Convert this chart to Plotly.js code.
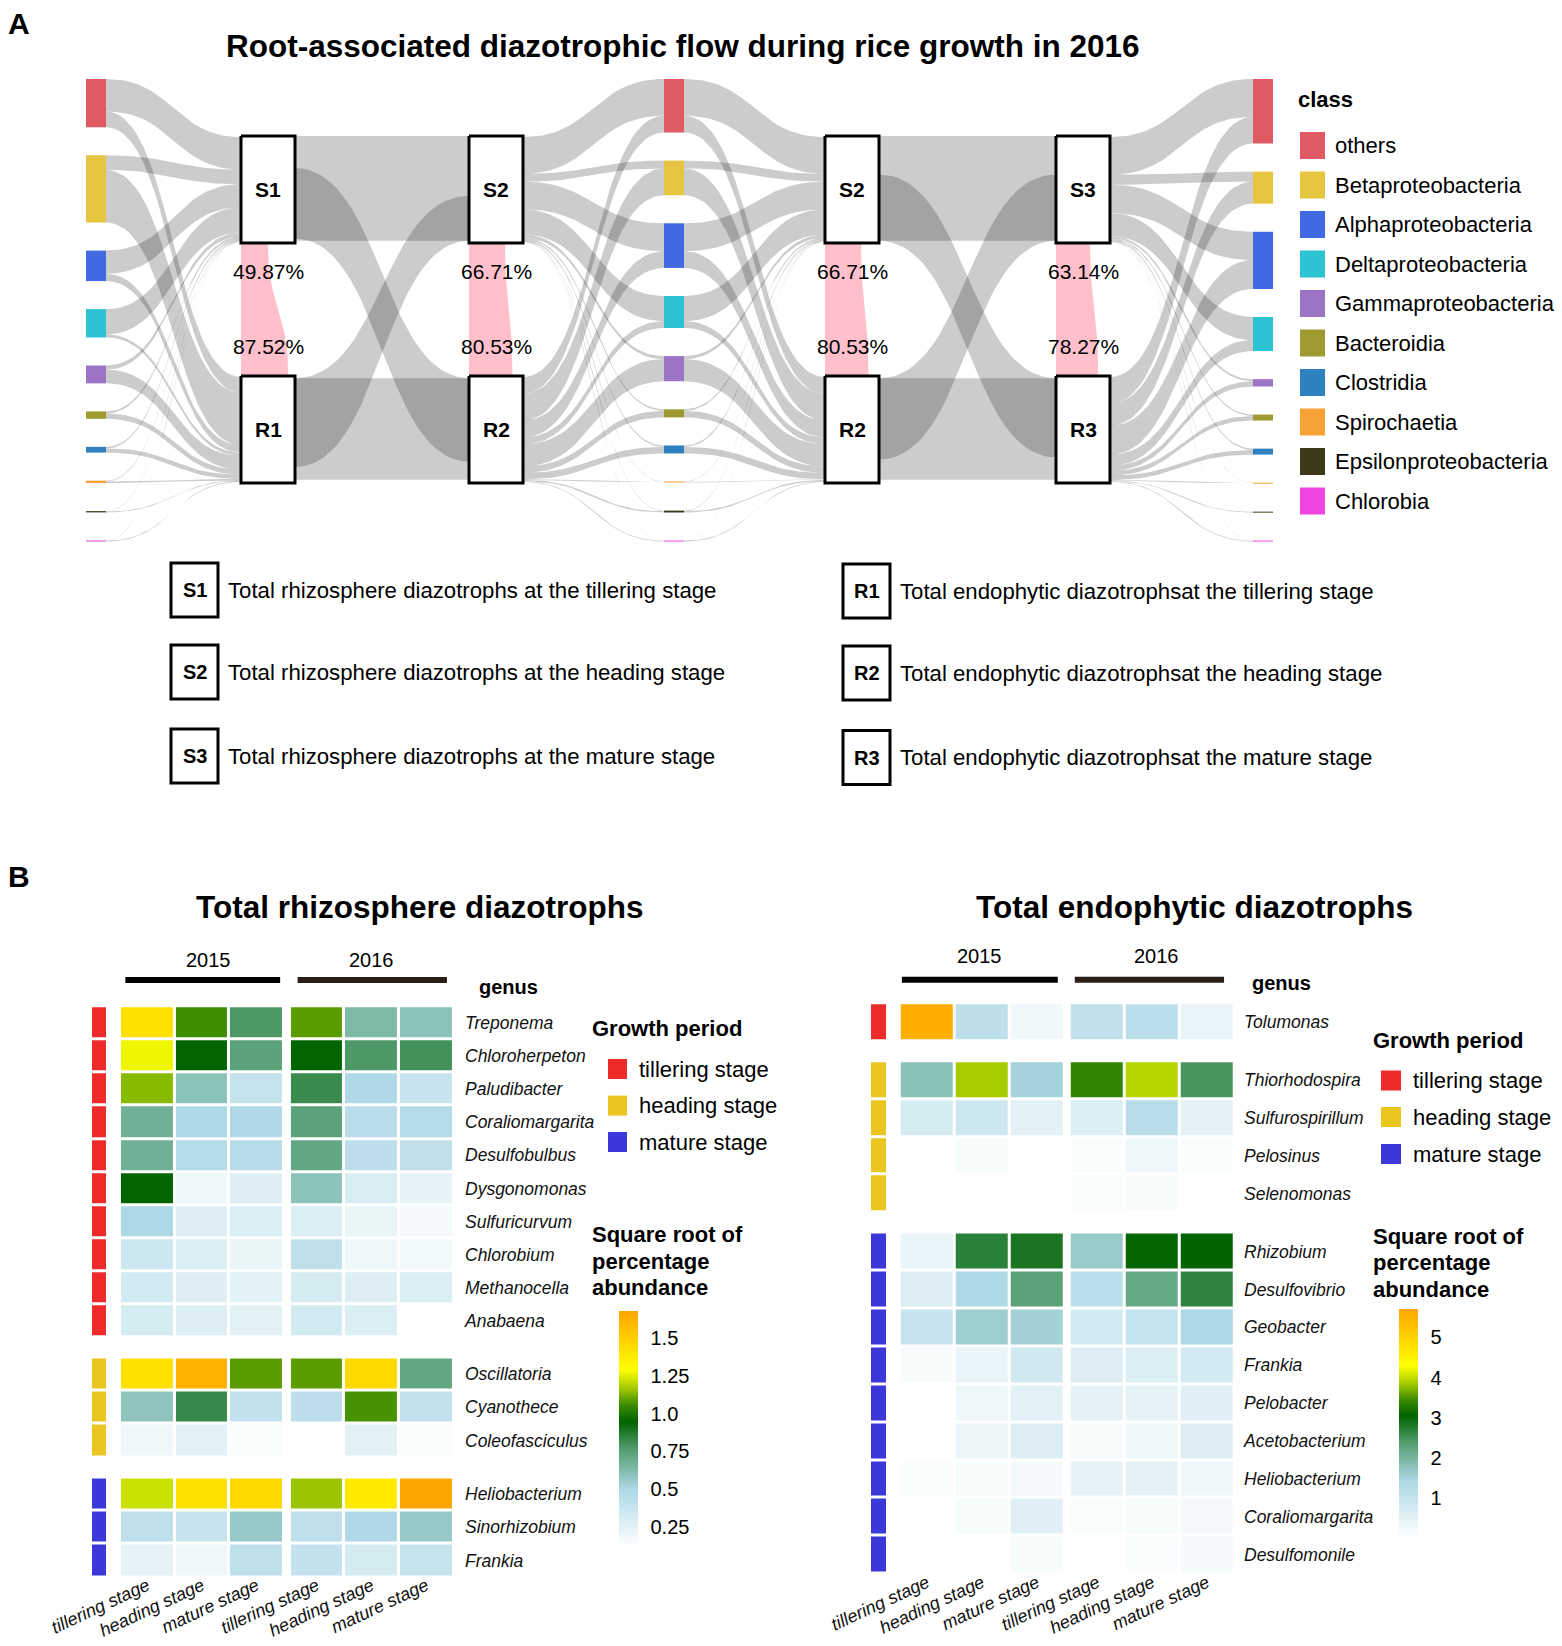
<!DOCTYPE html>
<html>
<head>
<meta charset="utf-8">
<script src="https://cdn.plot.ly/plotly-3.0.1.min.js"></script>
<style>html,body{margin:0;padding:0;background:#fff;}</style>
</head>
<body>
<div id="chart" style="width:1562px;height:1646px;"></div>
<script>
// ======================= DATA =======================
// Panel A – class composition (% of each total community, 2016)
const classNames = ['others','Betaproteobacteria','Alphaproteobacteria','Deltaproteobacteria','Gammaproteobacteria','Bacteroidia','Clostridia','Spirochaetia','Epsilonproteobacteria','Chlorobia'];
const classColors = ['#E05A63','#E6C540','#4169E1','#2CC3D3','#9C74C5','#9E9A2F','#2F80BE','#F7A136','#3C3A1B','#EF45E1'];
const S1comp = [31, 14, 22, 24, 4, 2, 1.5, 0.8, 0.4, 0.3];
const R1comp = [15, 50, 7, 3, 13, 5, 4, 1.5, 0.8, 0.7];
const S2comp = [35, 7.5, 26.5, 24, 3, 1.5, 1.4, 0.4, 0.5, 0.2];
const R2comp = [16, 25.5, 16, 6.5, 21, 6.2, 6.2, 0.6, 1.3, 0.7];
const S3comp = [36, 9.5, 27, 22, 2, 1.4, 1.4, 0.3, 0.2, 0.2];
const R3comp = [25.5, 21, 27.5, 10.5, 5, 4.3, 4.3, 0.6, 0.6, 0.7];

// total-community boxes and flows between them (% of box height)
const boxLabels = ['S1','R1','S2','R2','S2','R2','S3','R3'];
const flowSource   = [0, 1, 0, 1, 4, 5, 4, 5];
const flowTarget   = [2, 3, 3, 2, 6, 7, 7, 6];
const flowSrcStart = [0, 2, 30, 2, 0, 2, 36, 2];
const flowSrcEnd   = [98, 97, 96, 85, 98, 97, 98, 78];
const flowTgtStart = [0, 2, 2, 56, 0, 2, 2, 36];
const flowTgtEnd   = [98, 97, 80, 98, 98, 97, 76, 98];
const sharedTop    = [49.87, 66.71, 66.71, 63.14];
const sharedBottom = [87.52, 80.53, 80.53, 78.27];

const legendCodes = ['S1','S2','S3','R1','R2','R3'];
const legendTexts = ['Total rhizosphere diazotrophs at the tillering stage','Total rhizosphere diazotrophs at the heading stage','Total rhizosphere diazotrophs at the mature stage','Total endophytic diazotrophsat the tillering stage','Total endophytic diazotrophsat the heading stage','Total endophytic diazotrophsat the mature stage'];

// Panel B – square root of percentage abundance
const stageTicks = ['tillering stage','heading stage','mature stage','tillering stage','heading stage','mature stage'];
const years = ['2015','2016'];
const growthStages = ['tillering stage','heading stage','mature stage'];
const stageColors = ['#EE2B2B','#EBC520','#3B37D9'];

const rhizoTillGenus = ['Treponema','Chloroherpeton','Paludibacter','Coraliomargarita','Desulfobulbus','Dysgonomonas','Sulfuricurvum','Chlorobium','Methanocella','Anabaena'];
const rhizoTillValues = [
  [1.42,1.06,0.78,1.09,0.64,0.60],
  [1.27,0.95,0.74,0.95,0.78,0.80],
  [1.14,0.60,0.39,0.82,0.49,0.38],
  [0.68,0.50,0.49,0.74,0.45,0.47],
  [0.68,0.47,0.46,0.72,0.43,0.42],
  [0.95,0.20,0.28,0.60,0.30,0.24],
  [0.50,0.28,0.29,0.29,0.22,0.17],
  [0.36,0.29,0.22,0.42,0.20,0.18],
  [0.33,0.28,0.25,0.31,0.28,0.29],
  [0.31,0.28,0.26,0.33,0.29,0]];
const rhizoHeadGenus = ['Oscillatoria','Cyanothece','Coleofasciculus'];
const rhizoHeadValues = [
  [1.42,1.62,1.09,1.09,1.46,0.72],
  [0.59,0.83,0.40,0.43,1.07,0.41],
  [0.20,0.26,0.15,0,0.26,0.15]];
const rhizoMatGenus = ['Heliobacterium','Sinorhizobium','Frankia'];
const rhizoMatValues = [
  [1.22,1.42,1.46,1.16,1.38,1.68],
  [0.42,0.38,0.57,0.42,0.49,0.57],
  [0.24,0.20,0.42,0.40,0.32,0.39]];
const rhizoRange = [0.12, 1.68];
const rhizoTicks = [0.25,0.5,0.75,1.0,1.25,1.5];
const rhizoTickText = ['0.25','0.5','0.75','1.0','1.25','1.5'];

const endoTillGenus = ['Tolumonas'];
const endoTillValues = [[5.6,1.19,0.30,1.12,1.22,0.44]];
const endoHeadGenus = ['Thiorhodospira','Sulfurospirillum','Pelosinus','Selenomonas'];
const endoHeadValues = [
  [1.81,3.88,1.52,3.40,3.96,2.49],
  [0.74,0.91,0.54,0.67,1.25,0.50],
  [0,0.20,0,0.135,0.34,0.17],
  [0,0,0,0.135,0.20,0]];
const endoMatGenus = ['Rhizobium','Desulfovibrio','Geobacter','Frankia','Pelobacter','Acetobacterium','Heliobacterium','Coraliomargarita','Desulfomonile'];
const endoMatValues = [
  [0.40,2.72,2.85,1.67,3.08,3.05],
  [0.64,1.42,2.32,1.22,2.21,2.69],
  [1.00,1.62,1.55,0.80,1.03,1.44],
  [0.20,0.44,0.85,0.64,0.67,0.80],
  [0,0.34,0.54,0.50,0.47,0.57],
  [0,0.37,0.64,0.20,0.34,0.64],
  [0.135,0.20,0.24,0.47,0.50,0.34],
  [0,0.20,0.57,0.17,0.20,0.24],
  [0,0,0.20,0,0.17,0.24]];
const endoRange = [0.05, 5.72];
const endoTicks = [1,2,3,4,5];

// ======================= LAYOUT / STYLE =======================
const W = 1562, H = 1646;
const FONT = 'Liberation Sans, Arial, Helvetica, sans-serif';
const fx = p => p / W, fy = p => 1 - p / H;
const G = {
  colX: [86, 664, 1253], nodeW: 20, colTop: 79, colBottom: 541.5, k: 1.05,
  boxX: [241, 469, 825, 1056], boxW: 54, sTop: 136, rTop: 376, boxH: 107, inset: 1,
  link: 'rgba(0,0,0,0.2)', pink: '#FFC0CB'
};
const CS = [[0,'#FFFFFF'],[0.245,'#ADD8E6'],[0.42,'#4F9A6A'],[0.53,'#006400'],[0.60,'#3A8A00'],[0.67,'#A0C800'],[0.75,'#FFFF00'],[0.88,'#FFD000'],[1,'#FFA500']];
const X_EDGES = [0,1,2,3,3.1,4.1,5.1,6.1];
const X_CENTERS = [0.5,1.5,2.5,3.6,4.6,5.6];

const traces = [];
const shapes = [];
const annotations = [];
const OV = {xaxis:'x5', yaxis:'y7', hoverinfo:'skip', showlegend:false};

function poly(xs, ys, fillcolor, line) {
  return Object.assign({type:'scatter', mode:'lines', x:xs, y:ys, fill:'toself', fillcolor:fillcolor,
    line: line || {width:0, color:'rgba(0,0,0,0)'}}, OV);
}
function bez(p0,p1,p2,p3,t){const u=1-t;return u*u*u*p0+3*u*u*t*p1+3*u*t*t*p2+t*t*t*p3;}
function ribbon(x0, x1, a0, a1, b0, b1, color) {
  const xs=[], ys=[], N=40, xm=(x0+x1)/2;
  for (let i=0;i<=N;i++){const t=i/N; xs.push(bez(x0,xm,xm,x1,t)); ys.push(bez(a0,a0,b0,b0,t));}
  for (let i=N;i>=0;i--){const t=i/N; xs.push(bez(x0,xm,xm,x1,t)); ys.push(bez(a1,a1,b1,b1,t));}
  return poly(xs, ys, color);
}
function vribbon(y0, y1, xa0, xa1, xb0, xb1, color) {
  const xs=[], ys=[], N=40, ym=(y0+y1)/2;
  for (let i=0;i<=N;i++){const t=i/N; ys.push(bez(y0,ym,ym,y1,t)); xs.push(bez(xa0,xa0,xb0,xb0,t));}
  for (let i=N;i>=0;i--){const t=i/N; ys.push(bez(y0,ym,ym,y1,t)); xs.push(bez(xa1,xa1,xb1,xb1,t));}
  return poly(xs, ys, color);
}
function txt(x, y, text, size, opts) {
  return Object.assign({xref:'x5', yref:'y7', x:x, y:y, text:text, showarrow:false,
    font:{family:FONT, size:size, color:'#000'}, xanchor:'left', yanchor:'middle'}, opts || {});
}
const boxLeft = i => G.boxX[Math.floor(i/2)];
const boxRight = i => G.boxX[Math.floor(i/2)] + G.boxW;
const boxTop = i => (i % 2 === 0 ? G.sTop : G.rTop);

// ---- class columns ----
const colComps = [[S1comp,R1comp],[S2comp,R2comp],[S3comp,R3comp]];
const nodeTops = colComps.map(([s,r]) => {
  const h = s.map((v,i) => (v + r[i]) * G.k);
  const total = h.reduce((a,b)=>a+b,0);
  const pad = (G.colBottom - G.colTop - total) / (h.length - 1);
  let y = G.colTop;
  return h.map(v => {const t = y; y += v + pad; return t;});
});

function classLinks(col, sBox, rBox, classOnLeft) {
  const [sC, rC] = colComps[col];
  const cx = G.colX[col];
  let cumS = 0, cumR = 0;
  classNames.forEach((_, i) => {
    const ny = nodeTops[col][i];
    const sH = sC[i]*G.k, rH = rC[i]*G.k;
    const bS = boxTop(sBox) + G.inset + cumS*G.k; cumS += sC[i];
    const bR = boxTop(rBox) + G.inset + cumR*G.k; cumR += rC[i];
    if (classOnLeft) {
      traces.push(ribbon(cx+G.nodeW, boxLeft(sBox), ny, ny+sH, bS, bS+sH, G.link));
      traces.push(ribbon(cx+G.nodeW, boxLeft(rBox), ny+sH, ny+sH+rH, bR, bR+rH, G.link));
    } else {
      traces.push(ribbon(boxRight(sBox), cx, bS, bS+sH, ny, ny+sH, G.link));
      traces.push(ribbon(boxRight(rBox), cx, bR, bR+rH, ny+sH, ny+sH+rH, G.link));
    }
  });
}
classLinks(0, 0, 1, true);
classLinks(1, 2, 3, false);
classLinks(1, 4, 5, true);
classLinks(2, 6, 7, false);

// ---- box-to-box flows ----
flowSource.forEach((s, j) => {
  const t = flowTarget[j];
  traces.push(ribbon(boxRight(s), boxLeft(t),
    boxTop(s) + G.boxH*flowSrcStart[j]/100, boxTop(s) + G.boxH*flowSrcEnd[j]/100,
    boxTop(t) + G.boxH*flowTgtStart[j]/100, boxTop(t) + G.boxH*flowTgtEnd[j]/100, G.link));
});

// ---- shared (pink) bands + labels ----
sharedTop.forEach((pt, c) => {
  const x0 = G.boxX[c];
  const y0 = G.sTop + G.boxH, y1 = G.rTop;
  traces.push(vribbon(y0, y1, x0, x0 + G.boxW*pt/100, x0, x0 + G.boxW*sharedBottom[c]/100, G.pink));
  annotations.push(txt(x0 + G.boxW/2, y0 + 28, pt.toFixed(2) + '%', 21, {xanchor:'center'}));
  annotations.push(txt(x0 + G.boxW/2, y1 - 30, sharedBottom[c].toFixed(2) + '%', 21, {xanchor:'center'}));
});

// ---- class nodes ----
colComps.forEach(([s, r], col) => {
  classNames.forEach((_, i) => {
    const x0 = G.colX[col], x1 = x0 + G.nodeW;
    const y0 = nodeTops[col][i], y1 = y0 + Math.max((s[i]+r[i])*G.k, 1);
    traces.push(poly([x0,x1,x1,x0,x0],[y0,y0,y1,y1,y0], classColors[i]));
  });
});

// ---- boxes ----
boxLabels.forEach((lab, i) => {
  const x0 = boxLeft(i), x1 = boxRight(i), y0 = boxTop(i), y1 = y0 + G.boxH;
  traces.push(poly([x0,x1,x1,x0,x0],[y0,y0,y1,y1,y0], '#FFFFFF', {color:'#000', width:3}));
  annotations.push(txt((x0+x1)/2, (y0+y1)/2, '<b>' + lab + '</b>', 21, {xanchor:'center'}));
});

// ---- panel A texts & class legend ----
annotations.push(txt(6, 23, '<b>A</b>', 30));
annotations.push(txt(683, 46, '<b>Root-associated diazotrophic flow during rice growth in 2016</b>', 31.5, {xanchor:'center'}));
annotations.push(txt(1296, 99, '<b>class</b>', 22));
classNames.forEach((n, i) => {
  const yc = 145.5 + i*39.5;
  shapes.push({type:'rect', xref:'x5', yref:'y7', x0:1300, x1:1325, y0:yc-13.5, y1:yc+13.5, fillcolor:classColors[i], line:{width:0}});
  annotations.push(txt(1333, yc, n, 22));
});

// ---- S/R description legend ----
const legBoxX = [[171,218],[171,218],[171,218],[843,890],[843,890],[843,890]];
const legY = [590, 672, 756, 591, 673, 757.5];
legendCodes.forEach((c, i) => {
  const [x0, x1] = legBoxX[i], yc = legY[i];
  shapes.push({type:'rect', xref:'x5', yref:'y7', x0:x0, x1:x1, y0:yc-27, y1:yc+27, fillcolor:'#FFFFFF', line:{color:'#000', width:3}});
  annotations.push(txt((x0+x1)/2, yc, '<b>' + c + '</b>', 20, {xanchor:'center'}));
  annotations.push(txt(x1 + 8, yc, legendTexts[i], 22.2));
});

// ======================= PANEL B =======================
function heat(genus, vals, xa, ya, range, show, cb) {
  return {type:'heatmap', x:X_EDGES, y:genus, z:vals.map(r => [r[0],r[1],r[2],null,r[3],r[4],r[5]]),
    xaxis:xa, yaxis:ya, colorscale:CS, zmin:range[0], zmax:range[1], xgap:3, ygap:3,
    showscale:show, colorbar:cb, hoverinfo:'skip'};
}
function strip(genus, xa, ya, color) {
  return {type:'heatmap', x:[0], y:genus, z:genus.map(() => [1]), xaxis:xa, yaxis:ya,
    colorscale:[[0,color],[1,color]], zmin:0, zmax:1, showscale:false, ygap:3, hoverinfo:'skip'};
}
function cbar(x, yTop, yBot, vals, text) {
  return {x:fx(x), xanchor:'left', xpad:0, y:fy((yTop+yBot)/2), yanchor:'middle', ypad:0,
    len:yBot-yTop, lenmode:'pixels', thickness:19, outlinewidth:0,
    tickvals:vals, ticktext:text, ticks:'outside', ticklen:9, tickcolor:'rgba(0,0,0,0)',
    tickfont:{family:FONT, size:20, color:'#000'}};
}

traces.push(heat(rhizoTillGenus, rhizoTillValues, 'x', 'y', rhizoRange, true, cbar(618.6, 1310.7, 1546.7, rhizoTicks, rhizoTickText)));
traces.push(heat(rhizoHeadGenus, rhizoHeadValues, 'x', 'y2', rhizoRange, false));
traces.push(heat(rhizoMatGenus, rhizoMatValues, 'x', 'y3', rhizoRange, false));
traces.push(strip(rhizoTillGenus, 'x2', 'y', stageColors[0]));
traces.push(strip(rhizoHeadGenus, 'x2', 'y2', stageColors[1]));
traces.push(strip(rhizoMatGenus, 'x2', 'y3', stageColors[2]));

traces.push(heat(endoTillGenus, endoTillValues, 'x3', 'y4', endoRange, true, cbar(1399.4, 1308.3, 1536.7, endoTicks, endoTicks.map(String))));
traces.push(heat(endoHeadGenus, endoHeadValues, 'x3', 'y5', endoRange, false));
traces.push(heat(endoMatGenus, endoMatValues, 'x3', 'y6', endoRange, false));
traces.push(strip(endoTillGenus, 'x4', 'y4', stageColors[0]));
traces.push(strip(endoHeadGenus, 'x4', 'y5', stageColors[1]));
traces.push(strip(endoMatGenus, 'x4', 'y6', stageColors[2]));

// axes helpers
const hidden = {visible:false, fixedrange:true, showgrid:false, zeroline:false};
function stageAxis(d0, d1, axisY) {
  return {domain:[fx(d0), fx(d1)], range:[0, 6.1], anchor:'free', position:fy(axisY), tickvals:X_CENTERS, ticktext:stageTicks,
    tickangle:-25, tickfont:{family:FONT, size:18, style:'italic', color:'#111'},
    showgrid:false, zeroline:false, showline:false, ticks:'', fixedrange:true};
}
function genusAxis(top, bot, anchor, standoff) {
  return {domain:[fy(bot), fy(top)], anchor:anchor, side:'right', type:'category', autorange:'reversed',
    showgrid:false, zeroline:false, showline:false, ticks:'outside', ticklen:standoff, tickcolor:'rgba(0,0,0,0)',
    tickfont:{family:FONT, size:17.5, style:'italic', color:'#111'}, fixedrange:true};
}

// panel B texts
annotations.push(txt(6, 876, '<b>B</b>', 30));
annotations.push(txt(419, 907, '<b>Total rhizosphere diazotrophs</b>', 31.5, {xanchor:'center'}));
annotations.push(txt(1194, 907, '<b>Total endophytic diazotrophs</b>', 31.5, {xanchor:'center'}));

const yearBars = [
  {xref:'x', spans:[[0.1,2.93],[3.25,5.98]], labelX:[1.62,4.6], y:980, labelY:960},
  {xref:'x3', spans:[[0.04,2.88],[3.19,5.91]], labelX:[1.46,4.67], y:979.7, labelY:956}];
const barColors = ['#000000','#2B1E18'];
yearBars.forEach(b => {
  b.spans.forEach((s, j) => {
    shapes.push({type:'rect', xref:b.xref, yref:'y7', x0:s[0], x1:s[1], y0:b.y-3, y1:b.y+3, fillcolor:barColors[j], line:{width:0}});
    annotations.push({xref:b.xref, yref:'y7', x:b.labelX[j], y:b.labelY, text:years[j], showarrow:false,
      font:{family:FONT, size:20, color:'#000'}, xanchor:'center', yanchor:'middle'});
  });
});
annotations.push(txt(508, 987, '<b>genus</b>', 20, {xanchor:'center'}));
annotations.push(txt(1281, 983, '<b>genus</b>', 20, {xanchor:'center'}));

const gpLegends = [
  {x:590, titleY:1028, sw:[608,627], ys:[1069,1105.6,1142], tx:637, sq:[1234,1261,1287]},
  {x:1371, titleY:1040, sw:[1381,1401], ys:[1080.5,1117,1154], tx:1411, sq:[1236,1262.5,1289]}];
gpLegends.forEach(L => {
  annotations.push(txt(L.x, L.titleY, '<b>Growth period</b>', 22));
  growthStages.forEach((s, i) => {
    shapes.push({type:'rect', xref:'x5', yref:'y7', x0:L.sw[0], x1:L.sw[1], y0:L.ys[i]-10, y1:L.ys[i]+10, fillcolor:stageColors[i], line:{width:0}});
    annotations.push(txt(L.tx, L.ys[i], s, 22));
  });
  ['Square root of','percentage','abundance'].forEach((s, i) => annotations.push(txt(L.x, L.sq[i], '<b>' + s + '</b>', 22)));
});

const layout = {
  width:W, height:H, autosize:false,
  margin:{l:0, r:0, t:0, b:0, pad:0},
  paper_bgcolor:'#FFFFFF', plot_bgcolor:'rgba(0,0,0,0)',
  font:{family:FONT, color:'#000'},
  showlegend:false, hovermode:false,
  xaxis: stageAxis(119.9, 453.5, 1571),
  yaxis: genusAxis(1006.2, 1337.5, 'x', 7),
  yaxis2: genusAxis(1357.5, 1457.2, 'x', 7),
  yaxis3: genusAxis(1477.5, 1577.2, 'x', 7),
  xaxis2: Object.assign({domain:[fx(92), fx(106)], range:[-0.5,0.5], anchor:'y'}, hidden),
  xaxis3: stageAxis(899.7, 1234.5, 1568),
  yaxis4: genusAxis(1003.2, 1040.8, 'x3', 5),
  yaxis5: genusAxis(1061.2, 1212.5, 'x3', 5),
  yaxis6: genusAxis(1232.5, 1573.8, 'x3', 5),
  xaxis4: Object.assign({domain:[fx(871), fx(886)], range:[-0.5,0.5], anchor:'y4'}, hidden),
  xaxis5: Object.assign({domain:[0,1], range:[0,W], anchor:'y7'}, hidden),
  yaxis7: Object.assign({domain:[0,1], range:[H,0], anchor:'x5'}, hidden),
  shapes: shapes,
  annotations: annotations
};

Plotly.newPlot('chart', traces, layout, {staticPlot:true, displayModeBar:false});
</script>
</body>
</html>
